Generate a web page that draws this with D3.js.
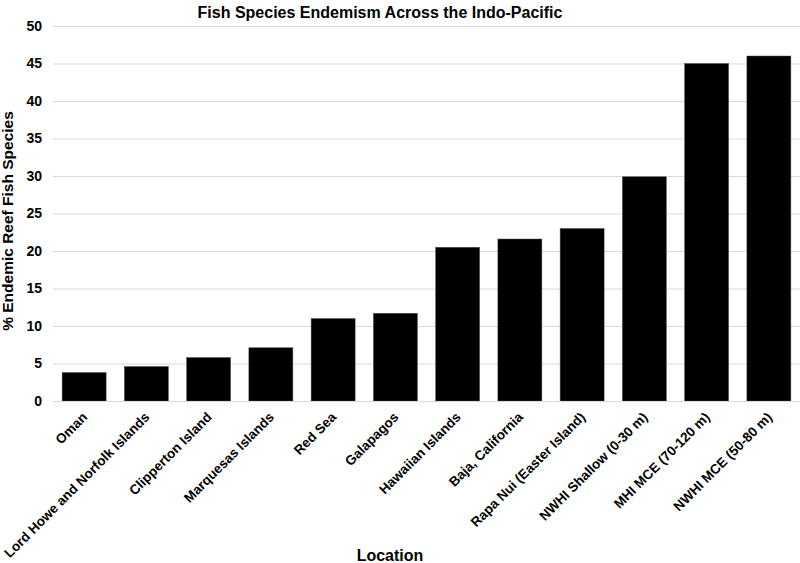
<!DOCTYPE html>
<html>
<head>
<meta charset="utf-8">
<script src="https://cdn.jsdelivr.net/npm/d3@7"></script>
<style>
  html, body { margin: 0; padding: 0; background: #fff; }
  svg { display: block; font-family: "Liberation Sans", Arial, sans-serif; }
</style>
</head>
<body>
<svg id="chart" width="800" height="563"></svg>
<script>
const categories = [
  "Oman",
  "Lord Howe and Norfolk Islands",
  "Clipperton Island",
  "Marquesas Islands",
  "Red Sea",
  "Galapagos",
  "Hawaiian Islands",
  "Baja, California",
  "Rapa Nui (Easter Island)",
  "NWHI Shallow (0-30 m)",
  "MHI MCE (70-120 m)",
  "NWHI MCE (50-80 m)"
];
const values = [3.8, 4.6, 5.8, 7.1, 11.0, 11.7, 20.5, 21.6, 23.0, 29.9, 45.0, 46.0];
const yTicks = [0, 5, 10, 15, 20, 25, 30, 35, 40, 45, 50];
const title = "Fish Species Endemism Across the Indo-Pacific";
const xTitle = "Location";
const yTitle = "% Endemic Reef Fish Species";

const svg = d3.select("#chart");
const W = 800, H = 563;
const m = { left: 53, right: 0, top: 26, bottom: 162 };

const x = d3.scaleBand().domain(categories).range([m.left, W - m.right]).paddingInner(0.293).paddingOuter(0.1465);
const y = d3.scaleLinear().domain([0, 50]).range([H - m.bottom, m.top]);

// gridlines
const grid = svg.append("g")
  .attr("transform", `translate(${m.left},0)`)
  .call(d3.axisLeft(y).tickValues(yTicks).tickSize(-(W - m.left - m.right)).tickFormat(""));
grid.select(".domain").remove();
grid.selectAll("line").attr("stroke", "#d9d9d9").attr("stroke-width", 1);

// bars
svg.append("g").selectAll("rect").data(values).join("rect")
  .attr("x", (d, i) => x(categories[i]))
  .attr("y", d => y(d))
  .attr("width", x.bandwidth())
  .attr("height", d => y(0) - y(d))
  .attr("fill", "#000")
  .attr("stroke", "#555")
  .attr("stroke-width", 0.5);

// y axis labels
const ya = svg.append("g")
  .attr("transform", `translate(${m.left},0)`)
  .call(d3.axisLeft(y).tickValues(yTicks).tickSize(0).tickPadding(11));
ya.select(".domain").remove();
ya.selectAll("text")
  .attr("font-family", "Liberation Sans, Arial, sans-serif")
  .attr("font-size", 14).attr("font-weight", "bold").attr("fill", "#000");

// x axis
const xa = svg.append("g")
  .attr("transform", `translate(0,${y(0)})`)
  .call(d3.axisBottom(x).tickSize(0).tickPadding(0));
xa.select(".domain").attr("stroke", "#d9d9d9");
xa.selectAll("text")
  .attr("font-family", "Liberation Sans, Arial, sans-serif")
  .attr("font-size", 13.5).attr("font-weight", "bold").attr("fill", "#000")
  .attr("text-anchor", "end")
  .attr("dy", null).attr("y", 0).attr("x", 0)
  .attr("transform", "translate(4,17) rotate(-45)");

// titles
svg.append("text").attr("x", 380).attr("y", 18).attr("text-anchor", "middle")
  .attr("font-size", 16).attr("font-weight", "bold").text(title);
svg.append("text").attr("x", 390).attr("y", 561).attr("text-anchor", "middle")
  .attr("font-size", 16).attr("font-weight", "bold").text(xTitle);
svg.append("text").attr("transform", "translate(13,221) rotate(-90)").attr("text-anchor", "middle")
  .attr("font-size", 15.5).attr("font-weight", "bold").text(yTitle);
</script>
</body>
</html>
